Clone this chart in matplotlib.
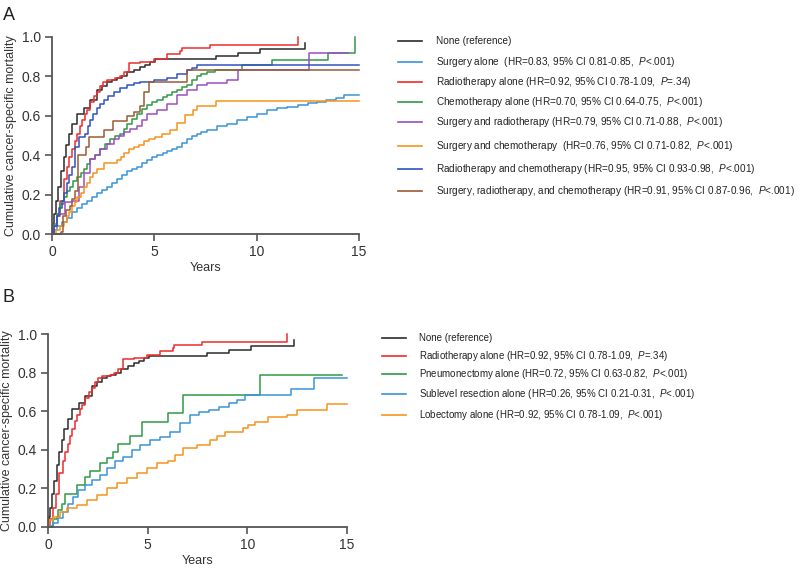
import matplotlib
matplotlib.use("Agg")
import matplotlib.pyplot as plt
from matplotlib.lines import Line2D

plt.rcParams['font.family'] = ['Liberation Sans', 'DejaVu Sans']
plt.rcParams['mathtext.fontset'] = 'custom'
plt.rcParams['mathtext.rm'] = 'Liberation Sans'
plt.rcParams['mathtext.it'] = 'Liberation Sans:italic'

# ---- panel A data (years, cumulative mortality) ----
none_t = [0, 0.05, 0.1, 0.2, 0.3, 0.45, 0.57, 0.7, 0.81, 1.0, 1.22, 1.55, 1.87, 2.2, 2.45,
          2.69, 2.95, 3.18, 3.4, 3.66, 4.0, 4.3, 4.55, 4.8, 5.05, 8.0, 9.07, 10.16, 12.35]
none_v = [0, 0.05, 0.1, 0.17, 0.24, 0.32, 0.39, 0.45, 0.51, 0.56, 0.61, 0.64, 0.68, 0.73, 0.75,
          0.77, 0.78, 0.79, 0.80, 0.82, 0.835, 0.85, 0.86, 0.875, 0.887, 0.904, 0.917, 0.939, 0.97]

radio_t = [0, 0.1, 0.24, 0.41, 0.57, 0.73, 0.85, 0.98, 1.1, 1.22, 1.35, 1.47, 1.6, 1.71, 1.85,
           2.04, 2.2, 2.36, 2.5, 2.69, 3.09, 3.3, 3.5, 3.75, 4.32, 4.97, 5.6, 6.25, 6.33, 7.72, 12.0]
radio_v = [0, 0.04, 0.1, 0.17, 0.28, 0.34, 0.39, 0.43, 0.47, 0.51, 0.55, 0.58, 0.61, 0.63, 0.67,
           0.70, 0.72, 0.75, 0.77, 0.78, 0.79, 0.80, 0.82, 0.87, 0.875, 0.89, 0.914, 0.93, 0.943, 0.959, 1.0]

surg_t = [0, 0.1, 0.24, 0.5, 0.73, 1.0, 1.22, 1.45, 1.71, 1.95, 2.2, 2.45, 2.69, 2.95, 3.18, 3.4,
          3.66, 3.9, 4.15, 4.4, 4.64, 4.9, 5.13, 5.4, 5.62, 5.85, 6.1, 6.35, 6.6, 6.85, 7.08, 7.3,
          7.57, 8.06, 8.55, 9.04, 9.53, 10.0, 10.5, 11.0, 11.5, 12.0, 12.5, 12.95, 13.4, 13.9, 14.25, 15]
surg_v = [0, 0.02, 0.04, 0.06, 0.08, 0.11, 0.13, 0.15, 0.17, 0.19, 0.21, 0.225, 0.24, 0.26, 0.28, 0.30,
          0.32, 0.33, 0.34, 0.36, 0.377, 0.39, 0.40, 0.41, 0.42, 0.43, 0.44, 0.46, 0.48, 0.495, 0.51, 0.52,
          0.53, 0.546, 0.56, 0.58, 0.596, 0.61, 0.63, 0.64, 0.647, 0.655, 0.664, 0.67, 0.68, 0.689, 0.706, 0.706]

chemo_t = [0, 0.1, 0.24, 0.4, 0.57, 0.75, 0.9, 1.05, 1.22, 1.4, 1.55, 1.7, 1.87, 2.1, 2.36, 2.6, 2.85,
           3.1, 3.34, 3.5, 3.66, 3.9, 4.15, 4.4, 4.64, 4.9, 5.13, 5.4, 5.62, 5.85, 6.1, 6.35, 6.6, 6.85,
           7.08, 7.3, 7.57, 7.96, 9.3, 10.73, 13.47, 14.8]
chemo_v = [0, 0.05, 0.1, 0.15, 0.19, 0.22, 0.24, 0.27, 0.29, 0.31, 0.33, 0.355, 0.38, 0.40, 0.43, 0.455,
           0.48, 0.495, 0.51, 0.535, 0.56, 0.585, 0.61, 0.635, 0.655, 0.67, 0.68, 0.695, 0.706, 0.72, 0.73,
           0.745, 0.757, 0.78, 0.80, 0.81, 0.82, 0.832, 0.858, 0.883, 0.917, 1.0]

sr_t = [0, 0.1, 0.24, 0.41, 0.65, 0.98, 1.3, 1.55, 1.87, 2.1, 2.36, 2.7, 3.01, 3.25, 3.5, 3.8, 4.15,
        4.4, 4.64, 5.13, 5.62, 6.1, 6.6, 7.08, 7.57, 8.55, 9.07, 12.57, 14.45]
sr_v = [0, 0.04, 0.09, 0.10, 0.16, 0.17, 0.24, 0.31, 0.38, 0.40, 0.43, 0.455, 0.48, 0.50, 0.52, 0.535,
        0.55, 0.58, 0.61, 0.63, 0.66, 0.706, 0.73, 0.757, 0.765, 0.78, 0.833, 0.92, 0.92]

sc_t = [0, 0.2, 0.41, 0.6, 0.73, 0.85, 0.98, 1.1, 1.22, 1.4, 1.55, 1.7, 1.87, 2.0, 2.2, 2.52, 3.18,
        3.35, 3.5, 3.75, 3.99, 4.25, 4.48, 4.75, 5.03, 5.36, 5.76, 6.09, 6.5, 6.9, 7.07, 8.0, 15]
sc_v = [0, 0.02, 0.04, 0.06, 0.09, 0.11, 0.14, 0.16, 0.19, 0.21, 0.24, 0.26, 0.29, 0.31, 0.33, 0.36,
        0.377, 0.39, 0.41, 0.43, 0.44, 0.45, 0.47, 0.48, 0.494, 0.51, 0.528, 0.565, 0.604, 0.63, 0.65,
        0.677, 0.677]

rc_t = [0, 0.1, 0.24, 0.35, 0.49, 0.6, 0.73, 0.85, 0.98, 1.14, 1.3, 1.63, 1.75, 1.87, 2.0, 2.2, 2.35,
        2.52, 2.75, 3.01, 3.3, 3.66, 4.0, 4.32, 4.97, 5.62, 6.1, 6.6, 6.85, 7.08, 15]
rc_v = [0, 0.04, 0.09, 0.13, 0.17, 0.21, 0.26, 0.30, 0.34, 0.44, 0.49, 0.51, 0.55, 0.58, 0.61, 0.64,
        0.66, 0.68, 0.70, 0.72, 0.74, 0.757, 0.765, 0.774, 0.78, 0.79, 0.81, 0.83, 0.845, 0.86, 0.86]

src_t = [0, 0.45, 0.54, 0.7, 0.86, 1.0, 1.11, 1.25, 1.65, 1.8, 2.52, 3.0, 3.66, 4.0, 4.3, 4.5, 4.75,
         6.58, 15]
src_v = [0, 0.01, 0.09, 0.12, 0.14, 0.18, 0.22, 0.40, 0.44, 0.49, 0.53, 0.575, 0.60, 0.62, 0.65, 0.72,
         0.773, 0.832, 0.832]

# ---- panel B data ----
pneu_t = [0, 0.27, 0.43, 0.52, 0.69, 0.85, 1.44, 1.86, 2.1, 2.6, 2.94, 3.28, 3.53, 4.1, 4.7, 6.04,
          6.79, 10.64, 14.73]
pneu_v = [0, 0.04, 0.05, 0.09, 0.12, 0.17, 0.22, 0.26, 0.29, 0.33, 0.36, 0.39, 0.43, 0.47, 0.545,
          0.59, 0.686, 0.79, 0.79]

sub_t = [0, 0.1, 0.27, 0.52, 0.77, 1.02, 1.27, 1.52, 1.86, 2.19, 2.6, 2.94, 3.36, 3.78, 4.2, 4.6,
         5.1, 5.6, 6.1, 6.6, 7.1, 7.6, 8.1, 8.6, 9.1, 9.5, 9.88, 12.2, 13.36, 15]
sub_v = [0, 0.005, 0.02, 0.045, 0.08, 0.12, 0.157, 0.19, 0.218, 0.244, 0.27, 0.304, 0.34, 0.364,
         0.40, 0.425, 0.45, 0.468, 0.494, 0.537, 0.58, 0.598, 0.606, 0.624, 0.64, 0.658, 0.686,
         0.715, 0.772, 0.772]

lob_t = [0, 0.05, 0.27, 0.6, 0.94, 1.44, 1.94, 2.44, 2.94, 3.44, 3.95, 4.45, 4.95, 5.45, 6.0, 6.37,
         6.79, 7.46, 8.13, 8.46, 8.88, 9.8, 10.05, 10.39, 11.05, 11.97, 12.48, 13.98, 15]
lob_v = [0, 0.036, 0.05, 0.08, 0.097, 0.114, 0.14, 0.166, 0.2, 0.226, 0.252, 0.278, 0.304, 0.33,
         0.34, 0.375, 0.41, 0.424, 0.452, 0.47, 0.492, 0.513, 0.53, 0.542, 0.568, 0.58, 0.608,
         0.637, 0.637]

labels_a = [
    "None (reference)",
    r"Surgery alone  (HR=0.83, 95% CI 0.81-0.85,  $\it{P}$<.001)",
    r"Radiotherapy alone (HR=0.92, 95% CI 0.78-1.09,  $\it{P}$=.34)",
    r"Chemotherapy alone (HR=0.70, 95% CI 0.64-0.75,  $\it{P}$<.001)",
    r"Surgery and radiotherapy (HR=0.79, 95% CI 0.71-0.88,  $\it{P}$<.001)",
    r"Surgery and chemotherapy  (HR=0.76, 95% CI 0.71-0.82,  $\it{P}$<.001)",
    r"Radiotherapy and chemotherapy (HR=0.95, 95% CI 0.93-0.98,  $\it{P}$<.001)",
    r"Surgery, radiotherapy, and chemotherapy (HR=0.91, 95% CI 0.87-0.96,  $\it{P}$<.001)",
]
labels_b = [
    "None (reference)",
    r"Radiotherapy alone (HR=0.92, 95% CI 0.78-1.09,  $\it{P}$=.34)",
    r"Pneumonectomy alone (HR=0.72, 95% CI 0.63-0.82,  $\it{P}$<.001)",
    r"Sublevel resection alone (HR=0.26, 95% CI 0.21-0.31,  $\it{P}$<.001)",
    r"Lobectomy alone (HR=0.92, 95% CI 0.78-1.09,  $\it{P}$<.001)",
]

c_none, c_surg, c_radio, c_chemo = '#2b2b2b', '#3b94d9', '#ee2b2b', '#2f9a45'
c_sr, c_sc, c_rc, c_src = '#9b4fbf', '#f7931e', '#3151c0', '#9a5b36'

series_a = [(none_t, none_v, c_none), (surg_t, surg_v, c_surg), (radio_t, radio_v, c_radio),
            (chemo_t, chemo_v, c_chemo), (sr_t, sr_v, c_sr), (sc_t, sc_v, c_sc),
            (rc_t, rc_v, c_rc), (src_t, src_v, c_src)]
series_b = [(none_t, none_v, c_none), (radio_t, radio_v, c_radio), (pneu_t, pneu_v, c_chemo),
            (sub_t, sub_v, c_surg), (lob_t, lob_v, c_sc)]

fig = plt.figure(figsize=(8, 5.71), dpi=100)
W, H = 800, 571


def make_axes(l, r, t, b):
    return fig.add_axes([l / W, 1 - b / H, (r - l) / W, (b - t) / H])


def style(ax):
    ax.set_xlim(0, 15)
    ax.set_ylim(0, 1.0)
    ax.set_xticks([0, 5, 10, 15])
    ax.set_yticks([0, 0.2, 0.4, 0.6, 0.8, 1.0])
    ax.set_yticklabels(['0.0', '0.2', '0.4', '0.6', '0.8', '1.0'])
    for s in ['top', 'right']:
        ax.spines[s].set_visible(False)
    for s in ['left', 'bottom']:
        ax.spines[s].set_color('#555555')
        ax.spines[s].set_linewidth(1.3)
    ax.tick_params(direction='out', length=5, width=1.2, color='#555555',
                   labelsize=10, labelcolor='#333333', pad=3)
    ax.set_xlabel('Years', fontsize=9, color='#333333', labelpad=2)
    ax.set_ylabel('Cumulative cancer-specific mortality', fontsize=9, color='#333333', labelpad=3)


def legend(labels, colors, x0, x1, xt, ys, fs):
    for lab, col, y in zip(labels, colors, ys):
        fig.add_artist(Line2D([x0 / W, x1 / W], [1 - y / H, 1 - y / H], color=col, lw=1.2))
        fig.text(xt / W, 1 - y / H, lab, fontsize=fs, color='#222222', va='center', ha='left')


ax_a = make_axes(52, 359, 37, 234)
for t, v, c in series_a:
    ax_a.plot(t, v, drawstyle='steps-post', color=c, lw=1.1, clip_on=False)
style(ax_a)
legend(labels_a, [s[2] for s in series_a], 398, 422, 436,
       [41, 62, 82, 102, 122, 146, 169, 191], 7.2)

ax_b = make_axes(48, 347, 334, 527)
for t, v, c in series_b:
    ax_b.plot(t, v, drawstyle='steps-post', color=c, lw=1.1, clip_on=False)
style(ax_b)
legend(labels_b, [s[2] for s in series_b], 382, 406, 419,
       [338, 356, 374, 394, 415], 7.0)

fig.text(3 / W, 1 - 15 / H, 'A', fontsize=13, va='center', ha='left', color='#222222')
fig.text(3 / W, 1 - 297 / H, 'B', fontsize=13, va='center', ha='left', color='#222222')

fig.savefig('out.png', dpi=100)
